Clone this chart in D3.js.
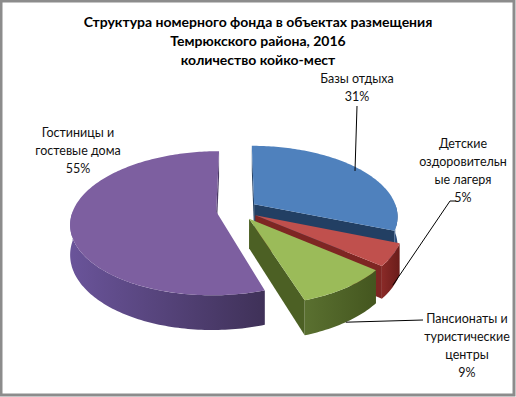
<!DOCTYPE html>
<html>
<head>
<meta charset="utf-8">
<script src="https://cdn.jsdelivr.net/npm/d3@7"></script>
<style>
  html, body { margin: 0; padding: 0; background: #fff; }
  svg { display: block; }
</style>
</head>
<body>
<div id="chart"></div>
<script>
// Chart data
const titleLines = ["Структура номерного фонда в объектах размещения", "Темрюкского района, 2016", "количество койко-мест"];
const categories = ["Базы отдыха", "Детские оздоровительные лагеря", "Пансионаты и туристические центры", "Гостиницы и гостевые дома"];
const values = [31, 5, 9, 55];
const labelLines = [["Базы отдыха"], ["Детские", "оздоровительн", "ые лагеря"], ["Пансионаты и", "туристические", "центры"], ["Гостиницы и", "гостевые дома"]];

// Colours: top, rim, cut face
const topColors = ["#4f81bd", "#c0504d", "#9bbb59", "#7d5fa0"];
const rimColors = [["#345a8a", "#24406a"], ["#8a2a27", "#6a1c1a"], ["#5a7030", "#44561f"], ["#6a549a", "#3f3158"]];
const faceColors = ["#223f63", "#7e2623", "#4c6024", "#4b3a66"];

// Layout
const W = 516, H = 397;
const CX = 237, CY = 210;       // pie centre on screen
const R = 143;                  // radius
const K = 0.487;                // vertical squash (tilt)
const P = 0.161;                // perspective strength
const E = 21;                   // explode distance
const DEPTH = 29;               // thickness
const labelPos = [[357, 79], [463, 144], [467, 319], [78, 133]];
const lineH = 18;

const svg = d3.select('#chart').append('svg')
  .attr('width', W).attr('height', H);

svg.append('rect').attr('x', 0).attr('y', 0).attr('width', W).attr('height', H).attr('fill', '#fff');

const defs = svg.append('defs');
rimColors.forEach(function (c, i) {
  let g = defs.append('linearGradient').attr('id', 'rim' + i)
    .attr('x1', '0%').attr('y1', '0%').attr('x2', '100%').attr('y2', '0%');
  g.append('stop').attr('offset', '0%').attr('stop-color', c[0]);
  g.append('stop').attr('offset', '100%').attr('stop-color', c[1]);
});

// 3D projection: X right, Z to the back, Y down (thickness)
function proj(X, Z, Y) {
  const s = 1 / (1 + P * Z / R);
  return [CX + X * s, CY - Z * K * s + Y * s];
}

const pie = d3.pie().sort(null).value(d => d).startAngle(0).endAngle(2 * Math.PI);
const arcs = pie(values).map(function (a, i) {
  const m = (a.startAngle + a.endAngle) / 2;
  return Object.assign(a, { i: i, mid: m, ox: E * Math.sin(m), oz: E * Math.cos(m) });
});

function pt(a, theta, r, y) {
  return proj(a.ox + r * Math.sin(theta), a.oz + r * Math.cos(theta), y);
}

function arcPoints(a, t0, t1, y) {
  const n = Math.max(2, Math.ceil(Math.abs(t1 - t0) / 0.02));
  return d3.range(n + 1).map(k => pt(a, t0 + (t1 - t0) * k / n, R, y));
}

function area(p) {
  let s = 0;
  for (let k = 0; k < p.length; k++) {
    const q = p[(k + 1) % p.length];
    s += p[k][0] * q[1] - q[0] * p[k][1];
  }
  return s;
}

const line = d3.line();

// draw back slices first
const order = arcs.slice().sort((a, b) => Math.cos(b.mid) - Math.cos(a.mid));

order.forEach(function (a) {
  const g = svg.append('g').attr('class', 'slice');
  const i = a.i;

  // cut faces
  const startFace = [pt(a, a.startAngle, 0, 0), pt(a, a.startAngle, R, 0), pt(a, a.startAngle, R, DEPTH), pt(a, a.startAngle, 0, DEPTH)];
  const endFace = [pt(a, a.endAngle, 0, 0), pt(a, a.endAngle, R, 0), pt(a, a.endAngle, R, DEPTH), pt(a, a.endAngle, 0, DEPTH)];
  if (area(startFace) < 0) {
    g.append('path').attr('d', line(startFace) + 'Z').attr('fill', faceColors[i]);
  }
  if (area(endFace) > 0) {
    g.append('path').attr('d', line(endFace) + 'Z').attr('fill', faceColors[i]);
  }

  // outer rim (front half only)
  const lo = Math.max(a.startAngle, Math.PI / 2);
  const hi = Math.min(a.endAngle, 3 * Math.PI / 2);
  if (hi > lo) {
    const rim = arcPoints(a, lo, hi, 0).concat(arcPoints(a, hi, lo, DEPTH));
    g.append('path').attr('d', line(rim) + 'Z').attr('fill', 'url(#rim' + i + ')');
  }

  // top
  const top = [pt(a, 0, 0, 0)].concat(arcPoints(a, a.startAngle, a.endAngle, 0));
  g.append('path').attr('d', line(top) + 'Z').attr('fill', topColors[i]);
});

// Title
const title = svg.append('text')
  .attr('text-anchor', 'middle')
  .attr('font-family', 'Lato, "Open Sans", sans-serif')
  .attr('font-weight', 'bold')
  .attr('font-size', 14)
  .attr('fill', '#000');
titleLines.forEach(function (t, k) {
  title.append('tspan').attr('x', 258).attr('y', 27 + k * 19).text(t);
});

// Data labels
arcs.forEach(function (a) {
  const pos = labelPos[a.i];
  const lines = labelLines[a.i].concat([values[a.i] + '%']);
  const txt = svg.append('text')
    .attr('text-anchor', 'middle')
    .attr('font-family', 'Lato, "Open Sans", sans-serif')
    .attr('font-size', 12.5)
    .attr('fill', '#111');
  lines.forEach(function (t, k) {
    txt.append('tspan').attr('x', pos[0]).attr('y', pos[1] + 4 + k * lineH).text(t);
  });
});

// Leader lines
const leaders = [
  { i: 0, from: [[357, 106]], r: 0.95, y: 0 },
  { i: 1, from: [[456, 201], [450, 201]], r: 1, y: DEPTH * 0.95 },
  { i: 2, from: [[423, 320]], r: 1, y: DEPTH }
];
leaders.forEach(function (l) {
  const a = arcs[l.i];
  const end = pt(a, a.mid, R * l.r, l.y);
  svg.append('path')
    .attr('d', line(l.from.concat([end])))
    .attr('fill', 'none')
    .attr('stroke', '#000')
    .attr('stroke-width', 1);
});

// Frame
svg.append('rect').attr('x', 1).attr('y', 1).attr('width', W - 3).attr('height', H - 3)
  .attr('fill', 'none').attr('stroke', '#8c8c8c').attr('stroke-width', 3);
</script>
</body>
</html>
